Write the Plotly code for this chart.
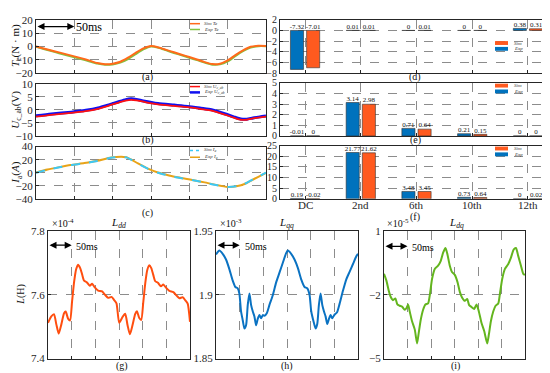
import plotly.graph_objects as go

# ---------------- data ----------------
# (a) electromagnetic torque, time in ms
t_te = [0, 10, 20, 30, 40, 50, 60, 70, 80, 90, 100, 110, 120, 130, 140, 150, 160, 170, 180, 190, 200,
        210, 220, 230, 240, 250, 260, 270, 280, 290, 300]
te_sim = [0, -1.5, -3, -4.5, -6, -7.5, -9, -10.7, -12.5, -13.4, -13, -11.5, -8.5, -4.8, -1.5, 0.3, -0.8,
          -2.6, -4.4, -6.2, -8, -9.8, -11.8, -13.3, -13, -10.5, -6.5, -3, -0.3, 0.5, 0.3]
te_exp = [-0.3, -1.9, -3.5, -5.1, -6.6, -8.1, -9.6, -11.3, -12.9, -13.8, -13.5, -12.2, -9.5, -5.8, -2.2,
          0, -1.0, -3, -4.9, -6.7, -8.5, -10.3, -12.2, -13.7, -13.5, -11.3, -7.3, -3.6, -0.8, 0.2, 0.2]

# (b) capacitor voltage
t_u = [0, 20, 46, 65, 81, 95, 107, 117, 124, 131, 140, 159, 180, 198, 215, 229, 246, 258, 267, 275, 283, 292, 300]
u_sim = [-2.6, -1.9, -1.2, -0.5, 0.4, 1.6, 2.7, 3.5, 3.8, 3.6, 3.1, 2.1, 1.5, 1.0, 0.3, -0.3, -1.8, -3.0,
         -3.8, -3.8, -3.3, -2.9, -2.6]
u_exp = [-2.3, -1.6, -0.9, -0.2, 0.7, 1.9, 3.0, 3.9, 4.2, 4.0, 3.4, 2.4, 1.8, 1.3, 0.6, 0.0, -1.5, -2.7,
         -3.5, -3.6, -3.1, -2.7, -2.4]

# (c) phase current
t_i = [0, 15, 29, 45, 63, 80, 98, 111, 118, 124, 133, 146, 159, 170, 181, 195, 207, 220, 233, 250, 263,
       272, 280, 290, 300]
i_sim = [0, 4.5, 8, 11.5, 14.5, 18, 23, 24, 23.5, 20, 14, 6, 0, -3.5, -6.5, -9.5, -12, -15, -18.5, -22,
         -20.5, -17, -12, -6, 0]
i_exp = [0.3, 4.8, 8.2, 11.8, 14.8, 18.3, 23.2, 24.3, 23.7, 20.3, 14.2, 6.2, 0.3, -3.2, -6.3, -9.2, -11.8,
         -14.8, -18.2, -21.8, -20.4, -17.2, -12.3, -6.2, -0.2]

# (d)-(f) harmonic spectra
harmonics = ["DC", "2nd", "6th", "10th", "12th"]
te_h_exp = [-7.32, 0.01, 0, 0, 0.38]
te_h_sim = [-7.01, 0.01, 0.01, 0, 0.31]
u_h_exp = [-0.01, 3.14, 0.71, 0.21, 0]
u_h_sim = [0, 2.98, 0.64, 0.15, 0]
i_h_exp = [0.19, 21.77, 3.48, 0.73, 0]
i_h_sim = [-0.02, 21.62, 3.45, 0.64, 0.02]

# (g) L_dd  (x1e-4 H)
t_ldd = [0, 7, 12.7, 17.6, 22.6, 28.2, 33.9, 37.4, 42.4, 46.6, 50.8, 55.1, 59.3, 63.5, 67.8, 72, 76.2,
         81.9, 88.2, 93.2, 98.8, 105.9, 114.4, 121.4, 127.1, 134.1, 139.8, 144.7, 150.4,
         157.4, 163.1, 168, 173, 178.6, 184.3, 187.8, 192.8, 197, 201.2, 205.5, 209.7, 213.9, 218.2,
         222.4, 226.6, 232.3, 238.6, 243.6, 249.2, 256.3, 264.8, 271.8, 277.5, 284.5, 290.2, 295.1, 300]
ldd = [7.512, 7.532, 7.539, 7.507, 7.478, 7.507, 7.542, 7.547, 7.525, 7.519, 7.578, 7.639, 7.679, 7.694,
       7.684, 7.664, 7.644, 7.639, 7.628, 7.634, 7.623, 7.613, 7.610, 7.598, 7.590, 7.593, 7.583, 7.573,
       7.512,
       7.530, 7.540, 7.505, 7.476, 7.505, 7.540, 7.548, 7.527, 7.521, 7.575, 7.636, 7.677, 7.692, 7.683,
       7.662, 7.642, 7.637, 7.626, 7.632, 7.622, 7.612, 7.608, 7.597, 7.589, 7.592, 7.582, 7.572, 7.515]

# (h) L_qq  (x1e-3 H)
t_lqq = [0, 7.1, 14.1, 21.2, 28.2, 35.3, 40.9, 45.9, 49.4, 52.9, 56.5, 60, 63.5, 67.1, 70.6, 74.1, 77.6,
         81.2, 84.7, 88.2, 91.8, 95.3, 98.8, 102.4, 107.3, 112.9, 120, 127.1, 134.1, 141.2, 148.2, 151.8,
         158.8, 165.9, 172.9, 180, 187.1, 192.7, 197.6, 201.2, 206.1, 210.4, 213.9, 217.4, 220.9, 224.5,
         228, 231.5, 235.1, 238.6, 242.1, 245.6, 250.6, 255.5, 261.2, 268.2, 275.3, 282.4, 289.4, 296.5, 300]
lqq = [1.9314, 1.9345, 1.932, 1.9275, 1.920, 1.911, 1.906, 1.905, 1.9008, 1.887, 1.880, 1.8735, 1.876,
       1.892, 1.901, 1.892, 1.887, 1.883, 1.876, 1.881, 1.884, 1.8815, 1.884, 1.8835, 1.8855, 1.892,
       1.8995, 1.9096, 1.9172, 1.925, 1.9325, 1.9345,
       1.932, 1.9275, 1.921, 1.912, 1.906, 1.905, 1.900, 1.887, 1.879, 1.8735, 1.877, 1.892, 1.901,
       1.892, 1.887, 1.883, 1.877, 1.881, 1.884, 1.8815, 1.8845, 1.886, 1.893, 1.903, 1.912, 1.918,
       1.924, 1.930, 1.932]

# (i) L_dq  (x1e-5 H)
t_ldq = [0, 5.0, 10.0, 14.2, 19.2, 24.2, 28.4, 33.4, 38.4, 44.1, 47.6, 51.2, 54.7, 59.7, 65.4, 70.4, 73.9,
         78.2, 83.2, 88.1, 93.8, 97.4, 102.3, 108.0, 115.1, 120.8, 125.8, 130.8, 135.0, 140.0, 145.0,
         150.7, 156.4, 161.3, 166.3, 172.0, 177.0, 181.2, 186.2, 191.9, 196.9, 201.8, 207.5, 213.2,
         219.6, 223.2, 227.4, 232.4, 237.4, 243.1, 246.6, 251.6, 257.3, 264.4, 270.1, 275.8, 280.7,
         285.7, 291.4, 296.4, 300]
ldq = [-1.02, -1.33, -1.80, -2.10, -2.26, -2.18, -2.46, -2.52, -2.56, -2.71, -2.64, -2.46, -2.79, -3.25,
       -3.63, -4.29, -3.79, -3.18, -2.71, -2.46, -2.41, -2.03, -1.25, -0.79, -0.64, -0.41, -0.03, 0.19,
       -0.11, -0.64, -0.95, -1.07, -1.41, -1.87, -2.14, -2.29, -2.20, -2.49, -2.58, -2.67, -2.46, -2.79,
       -3.33, -3.71, -4.29, -3.86, -3.25, -2.79, -2.52, -2.41, -1.96, -1.25, -0.79, -0.56, -0.26, 0.12,
       0.19, -0.19, -0.64, -1.02, -1.07]

time_ticks = [0, 50, 100, 150, 200, 250, 300]

# ---------------- styling ----------------
W, H = 550, 373
SERIF = "Liberation Serif, Times New Roman, serif"
AX = "#262626"
GRID = "#8c8c8c"
BLUE = "#0072BD"
ORANGE = "#FF5A1F"


def px(x):
    return x / W


def py(y):
    return 1 - y / H


fig = go.Figure()


def axname(n, kind):
    return kind + ("" if n == 1 else str(n))


def setup_axes(n, xpx, ypx, xr, yr, xtv, ytv, yfs=11):
    common = dict(showline=True, mirror=True, linecolor=AX, linewidth=1, ticks="inside", ticklen=3,
                  tickcolor=AX, showgrid=True, gridcolor=GRID, griddash="dash", gridwidth=1,
                  zeroline=False, fixedrange=True)
    xa = dict(common, domain=[px(xpx[0]), px(xpx[1])], range=xr, anchor=axname(n, "y"),
              tickmode="array", tickvals=xtv, showticklabels=False)
    ya = dict(common, domain=[py(ypx[1]), py(ypx[0])], range=yr, anchor=axname(n, "x"),
              tickmode="array", tickvals=ytv, showticklabels=True,
              tickfont=dict(family=SERIF, size=yfs, color=AX))
    fig.update_layout({axname(n, "xaxis"): xa, axname(n, "yaxis"): ya})


# time panels
setup_axes(1, (28, 258), (6, 61), [0, 300], [-20, 20], time_ticks, [-20, -10, 0, 10, 20])
setup_axes(2, (28, 258), (72, 126), [0, 300], [-10, 10], time_ticks, [-10, -5, 0, 5, 10])
setup_axes(3, (28, 258), (137, 191), [0, 300], [-40, 40], time_ticks, [-40, -20, 0, 20, 40])
# spectra
hx = list(range(len(harmonics)))
setup_axes(4, (272, 545), (6, 61), [-0.45, 4.45], [-8, 2], hx, [-8, -6, -4, -2, 0, 2], yfs=10)
setup_axes(5, (272, 545), (71, 126), [-0.45, 4.45], [0, 5], hx, [0, 1, 2, 3, 4, 5], yfs=10)
setup_axes(6, (272, 545), (136, 191), [-0.45, 4.45], [0, 25], hx, [0, 5, 10, 15, 20, 25], yfs=10)
# inductances
setup_axes(7, (40, 182), (224, 356), [0, 300], [7.4, 7.8], time_ticks, [7.4, 7.6, 7.8])
setup_axes(8, (208, 350), (224, 356), [0, 300], [1.85, 1.95], time_ticks, [1.85, 1.9, 1.95])
setup_axes(9, (376, 517), (224, 356), [0, 300], [-5, 1], time_ticks, [-5, -2, 1])
fig.update_layout(yaxis8=dict(ticktext=["1.85", "1.9", "1.95"]),
                  yaxis7=dict(ticktext=["7.4", "7.6", "7.8"]))


def line(n, x, y, color, width=1.8, dash="solid"):
    fig.add_trace(go.Scatter(x=x, y=y, mode="lines",
                             line=dict(color=color, width=width, dash=dash, shape="spline", smoothing=0.6),
                             xaxis=axname(n, "x"), yaxis=axname(n, "y"), hoverinfo="skip"))


line(1, t_te, te_exp, "#82C341", 2)
line(1, t_te, te_sim, "#FF6A1A", 2)
line(2, t_u, u_exp, "#1010F0", 3)
line(2, t_u, u_sim, "#FF1010", 1.8)
line(3, t_i, i_exp, "#E8A317", 2)
line(3, t_i, i_sim, "#3CC8F5", 2, "dash")
line(7, t_ldd, ldd, "#FF4E0F", 2)
line(8, t_lqq, lqq, "#0A72C2", 2)
line(9, t_ldq, ldq, "#63B51E", 2)

OFF = 0.145
BW = 0.235


def bars(n, exp_v, sim_v):
    xa, ya = axname(n, "x"), axname(n, "y")
    xe = [i - OFF for i in hx]
    xs = [i + OFF for i in hx]
    fig.add_trace(go.Bar(x=xe, y=exp_v, width=BW, marker=dict(color=BLUE, line=dict(color="#303030", width=0.6)),
                         xaxis=xa, yaxis=ya, hoverinfo="skip"))
    fig.add_trace(go.Bar(x=xs, y=sim_v, width=BW, marker=dict(color=ORANGE, line=dict(color="#303030", width=0.6)),
                         xaxis=xa, yaxis=ya, hoverinfo="skip"))
    fig.add_trace(go.Scatter(x=xe + xs, y=[max(v, 0) for v in exp_v + sim_v],
                             text=[f"{v:g}" for v in exp_v + sim_v], mode="text", textposition="top center",
                             textfont=dict(family=SERIF, size=7, color="#111"), cliponaxis=False,
                             xaxis=xa, yaxis=ya, hoverinfo="skip"))


bars(4, te_h_exp, te_h_sim)
bars(5, u_h_exp, u_h_sim)
bars(6, i_h_exp, i_h_sim)

ann = []
shapes = []


def text(x, y, s, size=10, xanchor="center", angle=0, color="#111"):
    ann.append(dict(x=px(x), y=py(y), xref="paper", yref="paper", text=s, showarrow=False, xanchor=xanchor,
                    yanchor="middle", textangle=angle, font=dict(family=SERIF, size=size, color=color)))


# category labels under panel (f)
for i, h in zip(hx, harmonics):
    ann.append(dict(x=i, y=py(197), xref="x6", yref="paper", text=h, showarrow=False, xanchor="center",
                    yanchor="middle", font=dict(family=SERIF, size=11, color=AX)))

for lab, x, y in [("(a)", 140, 65), ("(b)", 140, 130), ("(c)", 140, 206), ("(d)", 407, 65), ("(e)", 407, 130),
                  ("(f)", 407, 210), ("(g)", 114, 364), ("(h)", 279, 364), ("(i)", 447, 364)]:
    text(x, y, lab, 10)

text(8, 33, "<i>T</i><sub>e</sub>(N · m)", 11, angle=-90)
text(8, 99, "<i>U</i><sub>c_ab</sub>(V)", 11, angle=-90)
text(8, 164, "<i>I</i><sub>a</sub>(<i>A</i>)", 11, angle=-90)
text(13, 290, "<i>L</i>(H)", 10, angle=-90)

text(42, 216, "×10<sup>-4</sup>", 10, xanchor="left")
text(110, 216, "<i>L<sub>dd</sub></i>", 11)
text(210, 216, "×10<sup>-3</sup>", 10, xanchor="left")
text(278, 216, "<i>L<sub>qq</sub></i>", 11)
text(377, 216, "×10<sup>-5</sup>", 10, xanchor="left")
text(448, 216, "<i>L<sub>dq</sub></i>", 11)


# 50ms arrows
def arrow(n, yv, x_txt, y_txt, size):
    ann.append(dict(x=50, y=yv, ax=0, ay=yv, xref=axname(n, "x"), yref=axname(n, "y"), axref=axname(n, "x"),
                    ayref=axname(n, "y"), text="", showarrow=True, arrowhead=2, arrowside="end+start",
                    arrowsize=1, arrowwidth=1.4, arrowcolor="#000"))
    text(x_txt, y_txt, "50ms", size, xanchor="left", color="#000")


arrow(1, 14.9, 66, 13, 12)
arrow(7, 7.755, 66, 240, 10)
arrow(8, 1.9386, 235, 240, 10)
arrow(9, 0.27, 402, 241, 10)


# small legends
def leg_line(x0, y, color, label, dash="solid", width=1.5):
    shapes.append(dict(type="line", xref="paper", yref="paper", x0=px(x0), x1=px(x0 + 10), y0=py(y), y1=py(y),
                       line=dict(color=color, width=width, dash=dash)))
    text(x0 + 12, y, label, 5, xanchor="left", color="#333")


leg_line(182, 10, "#FF6A1A", "<i>Sim Te</i>")
leg_line(182, 16, "#82C341", "<i>Exp Te</i>")
leg_line(182, 75, "#FF1010", "<i>Sim U<sub>c_ab</sub></i>")
leg_line(182, 81, "#1010F0", "<i>Exp U<sub>c_ab</sub></i>", width=2.5)
leg_line(182, 141, "#3CC8F5", "<i>Sim I<sub>a</sub></i>", dash="dot")
leg_line(182, 148, "#E8A317", "<i>Exp I<sub>a</sub></i>")


def leg_box(x0, y, color, label):
    shapes.append(dict(type="rect", xref="paper", yref="paper", x0=px(x0), x1=px(x0 + 13), y0=py(y + 2),
                       y1=py(y - 2), line=dict(width=0), fillcolor=color))
    text(x0 + 17, y, label, 5, xanchor="left", color="#333")


for yy in (30, 74, 139):
    leg_box(487, yy, ORANGE, "<i>Sim</i>")
    leg_box(487, yy + 6, BLUE, "<i>Exp</i>")

fig.update_layout(width=W, height=H, margin=dict(l=0, r=0, t=0, b=0), paper_bgcolor="white",
                  plot_bgcolor="white", showlegend=False, barmode="overlay", annotations=ann, shapes=shapes)

fig.write_html("out.html")
